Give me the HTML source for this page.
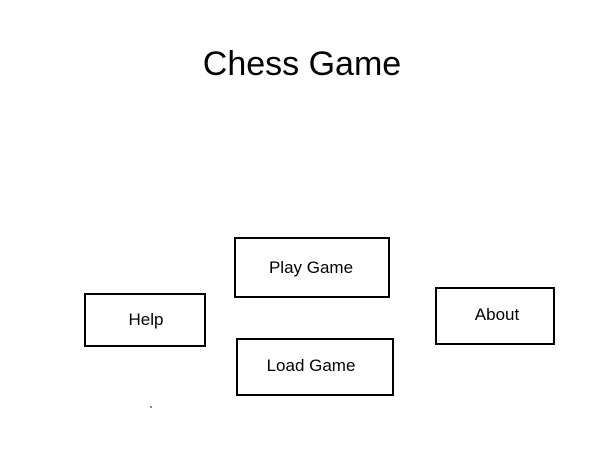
<!DOCTYPE html>
<html><head><style>
body{margin:0;width:600px;height:450px;background:#fff;position:relative;font-family:"Liberation Sans",sans-serif;overflow:hidden}
.t{position:absolute;left:0;width:604px;top:45px;text-align:center;font-size:34px;color:#000}
.b{position:absolute;border:2px solid #000;box-sizing:border-box;display:flex;align-items:center;justify-content:center;font-size:17px;color:#000}
</style></head><body>
<div class="t">Chess Game</div>
<div class="b" style="left:234px;top:237px;width:156px;height:61px;padding-right:2px">Play Game</div>
<div class="b" style="left:84px;top:293px;width:122px;height:54px;padding-left:2px">Help</div>
<div class="b" style="left:236px;top:338px;width:158px;height:58px;padding-right:8px;padding-bottom:2px">Load Game</div>
<div class="b" style="left:435px;top:287px;width:120px;height:58px;padding-bottom:3px;padding-left:4px">About</div>
<div style="position:absolute;left:150px;top:406px;width:2px;height:2px;background:#888"></div>
</body></html>
